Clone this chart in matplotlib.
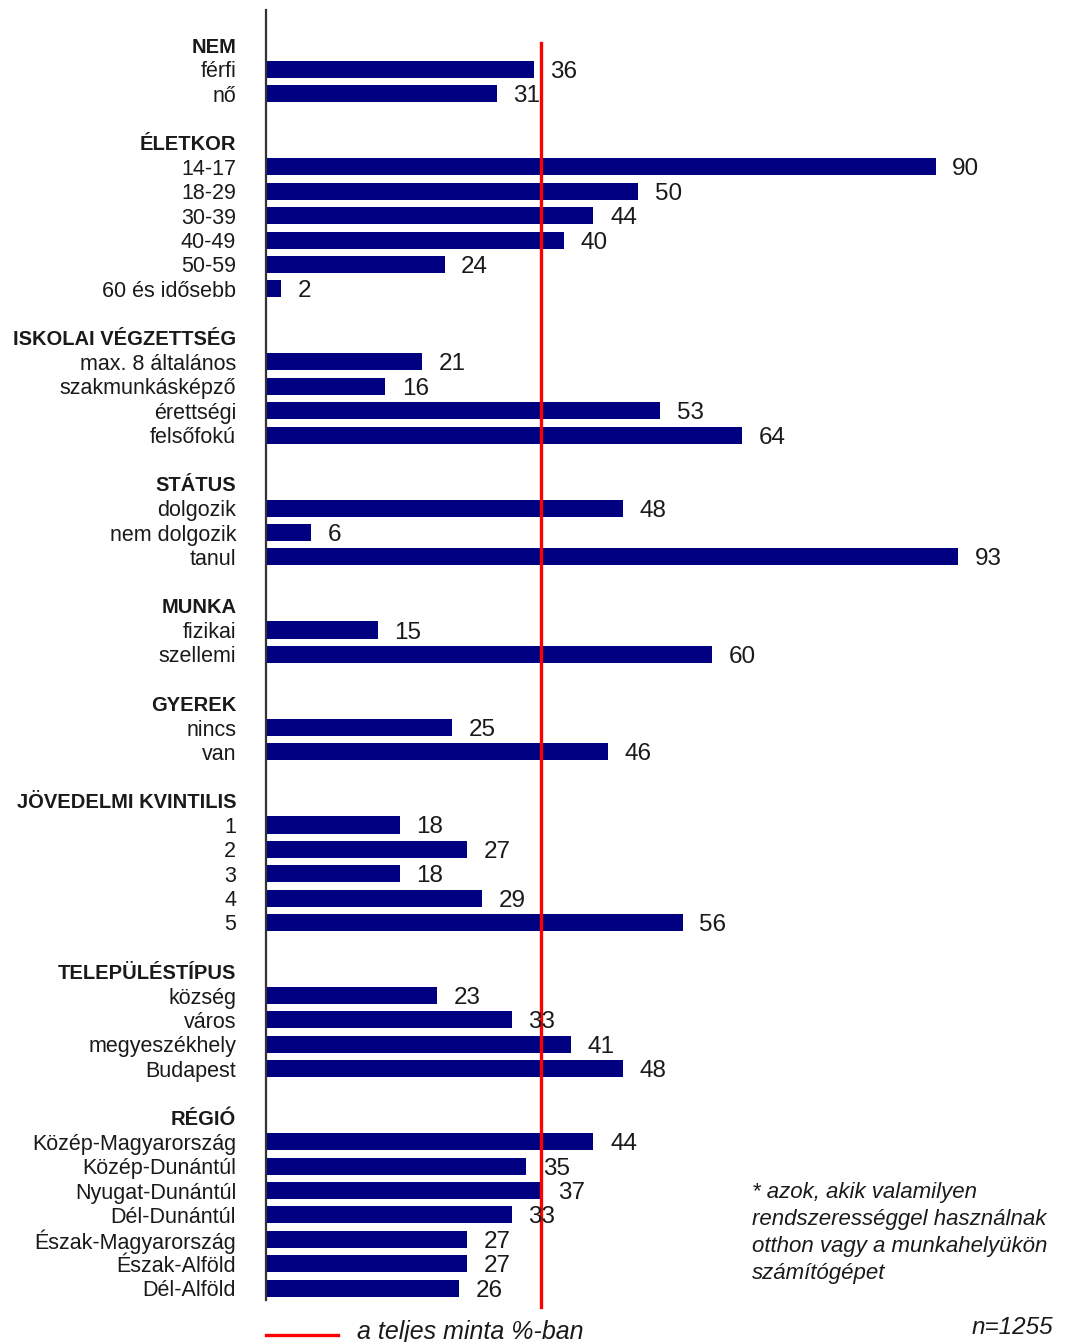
import numpy as np
import matplotlib
matplotlib.use("Agg")
import matplotlib.pyplot as plt
from matplotlib.lines import Line2D

plt.rcParams['font.family'] = ['Liberation Sans', 'DejaVu Sans']

# csoportok, kategóriák és értékek (%)
group_titles = ["NEM", "ÉLETKOR", "ISKOLAI VÉGZETTSÉG", "STÁTUS", "MUNKA",
                "GYEREK", "JÖVEDELMI KVINTILIS", "TELEPÜLÉSTÍPUS", "RÉGIÓ"]
group_labels = [
    ["férfi", "nő"],
    ["14-17", "18-29", "30-39", "40-49", "50-59", "60 és idősebb"],
    ["max. 8 általános", "szakmunkásképző", "érettségi", "felsőfokú"],
    ["dolgozik", "nem dolgozik", "tanul"],
    ["fizikai", "szellemi"],
    ["nincs", "van"],
    ["1", "2", "3", "4", "5"],
    ["község", "város", "megyeszékhely", "Budapest"],
    ["Közép-Magyarország", "Közép-Dunántúl", "Nyugat-Dunántúl", "Dél-Dunántúl",
     "Észak-Magyarország", "Észak-Alföld", "Dél-Alföld"],
]
group_values = [
    [36, 31],
    [90, 50, 44, 40, 24, 2],
    [21, 16, 53, 64],
    [48, 6, 93],
    [15, 60],
    [25, 46],
    [18, 27, 18, 29, 56],
    [23, 33, 41, 48],
    [44, 35, 37, 33, 27, 27, 26],
]
total_sample = 37

# sorok felépítése: fejléc, elemek, üres sor
rows = []   # (felirat, érték vagy None, félkövér?)
for gi, (title, labs, vals) in enumerate(zip(group_titles, group_labels, group_values)):
    rows.append((title, None, True))
    for lab, v in zip(labs, vals):
        rows.append((lab, v, False))
    if gi < len(group_titles) - 1:
        rows.append(("", None, False))

W, H = 1068, 1342
fig = plt.figure(figsize=(W / 100, H / 100), dpi=100)
ax = fig.add_axes([266 / W, 1 - 1300 / H, 802 / W, 1290 / H])

n = len(rows)
ypos = np.arange(n)
bar_y = [y for y, r in zip(ypos, rows) if r[1] is not None]
bar_v = [r[1] for r in rows if r[1] is not None]

navy = "#000080"
ax.barh(bar_y, bar_v, height=0.7, color=navy, zorder=2)
for y, v in zip(bar_y, bar_v):
    ax.annotate(str(v), (v, y), xytext=(12, -1.8), textcoords="offset points",
                ha="left", va="center", fontsize=17.5, color="#1a1a1a", zorder=4)

# teljes minta vonala
ax.plot([total_sample, total_sample], [-0.08, 51.78], color="#ff0000", lw=2.4,
        clip_on=False, zorder=3)

ax.set_xlim(0, 802 / 7.44)
ax.set_ylim(51.49, -1.44)
ax.set_yticks(ypos)
ax.set_yticklabels([r[0] for r in rows], fontsize=15.5, color="#1a1a1a")
for t, r in zip(ax.get_yticklabels(), rows):
    if r[2]:
        t.set_fontweight("bold")
        t.set_fontsize(14.5)
ax.tick_params(axis="y", length=0, pad=21.5)
ax.set_xticks([])
for s in ["top", "right", "bottom"]:
    ax.spines[s].set_visible(False)
ax.spines["left"].set_color("#333333")
ax.spines["left"].set_linewidth(1.6)

# jelmagyarázat és megjegyzések
fig.add_artist(Line2D([266 / W, 338 / W], [1 - 1335 / H, 1 - 1335 / H],
                      color="#ff0000", lw=2.4))
fig.text(357 / W, 1 - 1332 / H, "a teljes minta %-ban", fontsize=18,
         style="italic", ha="left", va="center", color="#1a1a1a")
fig.text(1053 / W, 1 - 1328 / H, "n=1255", fontsize=17.5, style="italic",
         ha="right", va="center", color="#1a1a1a")
fig.text(752 / W, 1 - 1182 / H,
         "* azok, akik valamilyen\nrendszerességgel használnak\notthon vagy a munkahelyükön\nszámítógépet",
         fontsize=16, style="italic", ha="left", va="top", linespacing=1.38,
         color="#1a1a1a")

fig.savefig("out.png", dpi=100)
